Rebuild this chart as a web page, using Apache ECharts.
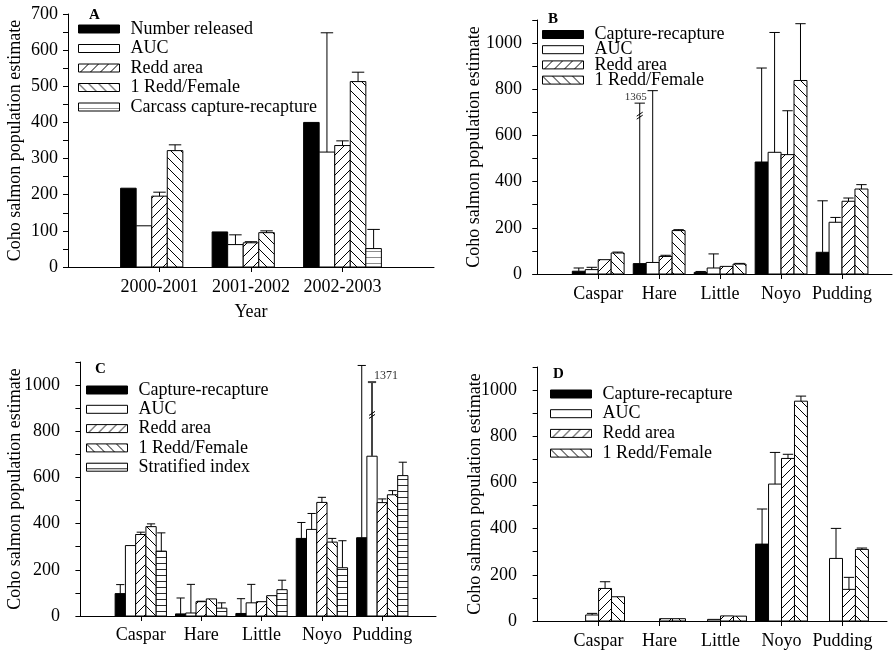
<!DOCTYPE html>
<html>
<head>
<meta charset="utf-8">
<script src="https://cdn.jsdelivr.net/npm/echarts@6/dist/echarts.min.js"></script>
<style>
  html, body { margin: 0; padding: 0; background: #fff; }
  #chart { width: 895px; height: 654px; }
</style>
</head>
<body>
<div id="chart"></div>
<script>
// ---- Data -------------------------------------------------------------
const years = ['2000-2001', '2001-2002', '2002-2003'];
const rivers = ['Caspar', 'Hare', 'Little', 'Noyo', 'Pudding'];

// Panel A: estimates by year (bar height, upper whisker)
const aReleased = [218, 97, 400];
const aReleasedErr = [null, null, null];
const aAuc = [114, 62, 318];
const aAucErr = [null, 89, 648];
const aReddArea = [196, 67, 336];
const aReddAreaErr = [207, 70, 349];
const aReddFemale = [322, 95, 513];
const aReddFemaleErr = [338, 100, 539];
const aCarcass = [null, null, 51];
const aCarcassErr = [null, null, 104];

// Panel B
const bCapture = [12, 45, 7, 485, 94];
const bCaptureErr = [26, 1365, 11, 892, 317];
const bAuc = [19, 50, 26, 527, 224];
const bAucErr = [29, 794, 87, 1046, 245];
const bReddArea = [62, 76, 33, 517, 315];
const bReddAreaErr = [null, 81, null, 707, 329];
const bReddFemale = [91, 188, 43, 838, 368];
const bReddFemaleErr = [95, 192, 46, 1084, 387];

// Panel C
const cCapture = [97, 9, 11, 336, 339];
const cCaptureErr = [136, 78, 75, 405, 1085];
const cAuc = [305, 13, 57, 375, 692];
const cAucErr = [null, 137, 137, 444, 1371];
const cReddArea = [353, 62, 62, 492, 491];
const cReddAreaErr = [363, 64, null, 514, 507];
const cReddFemale = [387, 74, 88, 320, 525];
const cReddFemaleErr = [399, null, null, 336, 543];
const cStratified = [281, 34, 114, 209, 608];
const cStratifiedErr = [360, 57, 155, 326, 666];

// Panel D
const dCapture = [null, null, null, 333, null];
const dCaptureErr = [null, null, null, 485, null];
const dAuc = [26, null, 7, 593, 271];
const dAucErr = [33, null, null, 730, 401];
const dReddArea = [141, 10, 22, 704, 137];
const dReddAreaErr = [170, null, null, 722, 189];
const dReddFemale = [105, 10, 21, 952, 310];
const dReddFemaleErr = [null, null, null, 974, 316];

const yTitle = 'Coho salmon population estimate';

// ---- Fill patterns ----------------------------------------------------
function makeTile(kind, color) {
  const c = document.createElement('canvas');
  const w = kind === 'h' ? 4 : 10, h = kind === 'h' ? 6 : 10;
  c.width = w; c.height = h;
  const g = c.getContext('2d');
  g.fillStyle = '#fff';
  g.fillRect(0, 0, w, h);
  g.strokeStyle = color || '#000';
  g.lineWidth = 1;
  g.beginPath();
  if (kind === '/') {
    g.moveTo(-1, h + 1); g.lineTo(w + 1, -1);
    g.moveTo(-1, 1); g.lineTo(1, -1);
    g.moveTo(w - 1, h + 1); g.lineTo(w + 1, h - 1);
  } else if (kind === '\\') {
    g.moveTo(-1, -1); g.lineTo(w + 1, h + 1);
    g.moveTo(w - 1, -1); g.lineTo(w + 1, 1);
    g.moveTo(-1, h - 1); g.lineTo(1, h + 1);
  } else if (kind === 'h') {
    g.moveTo(0, h - 0.5); g.lineTo(w, h - 0.5);
  }
  g.stroke();
  return { type: 'pattern', image: c, repeat: 'repeat' };
}
const FILL = {
  solid: '#000',
  open: '#fff',
  fwd: makeTile('/'),
  back: makeTile('\\'),
  carcass: makeTile('h', '#8c8c8c'),
  strat: makeTile('h', '#2a2a2a')
};

const FONT = '"Liberation Serif", "Times New Roman", Times, serif';
const GROUP_FRAC = 0.85;

// whiskers whose upper end runs off the scale and is drawn with a break
const BROKEN = {
  'B|Capture-recapture': { 1: { drawnTo: 740, breakAt: 688, color: '#000', width: 1, side: 'top' } },
  'C|AUC': { 4: { drawnTo: 1013, breakAt: 873, color: '#444', width: 2, side: 'right' } }
};

function makeRenderer(k, n, fill, broken) {
  return function (params, api) {
    const v = api.value(1);
    if (!isFinite(v)) return null;
    const x = api.value(0);
    const w = api.size([1, 0])[0] * GROUP_FRAC / n;
    const base = api.coord([x, 0]);
    const cx = base[0] + (k - (n - 1) / 2) * w;
    const top = api.coord([x, v])[1];
    const kids = [{
      type: 'rect',
      shape: { x: cx - w / 2, y: top, width: w, height: base[1] - top },
      style: { fill: fill, stroke: '#000', lineWidth: 1 }
    }];
    const e = api.value(2);
    if (isFinite(e)) {
      const br = broken && broken[params.dataIndex];
      const capY = api.coord([x, br ? br.drawnTo : e])[1];
      const stroke = br ? br.color : '#000';
      const lw = br ? br.width : 1;
      const capW = w * 0.8;
      kids.push({ type: 'line', shape: { x1: cx, y1: top, x2: cx, y2: capY }, style: { stroke: stroke, lineWidth: lw } });
      kids.push({ type: 'line', shape: { x1: cx - capW / 2, y1: capY, x2: cx + capW / 2, y2: capY }, style: { stroke: stroke, lineWidth: lw } });
      if (br) {
        const by = api.coord([x, br.breakAt])[1];
        kids.push({ type: 'line', shape: { x1: cx - 3, y1: by + 1, x2: cx + 3, y2: by - 3 }, style: { stroke: '#000', lineWidth: 1 } });
        kids.push({ type: 'line', shape: { x1: cx - 3, y1: by + 4, x2: cx + 3, y2: by }, style: { stroke: '#000', lineWidth: 1 } });
        kids.push({
          type: 'text',
          style: br.side === 'top'
            ? { text: String(e), x: cx - 4, y: capY - 1, align: 'center', verticalAlign: 'bottom', fill: '#333', font: '11px ' + FONT }
            : { text: String(e), x: cx + 2, y: capY - 6, align: 'left', verticalAlign: 'middle', fill: '#333', font: '12px ' + FONT }
        });
      }
    }
    return { type: 'group', children: kids };
  };
}

// ---- Panels -----------------------------------------------------------
const panels = [
  {
    id: 'A', cats: years, ymax: 700, yStep: 50, labelStep: 100,
    grid: { left: 68, top: 14, width: 366, height: 253 },
    xmin: 0, xmax: 4, yMargin: 10, xMargin: 11, nameGap: 44,
    letter: { left: 89, top: 8 },
    legend: { left: 78, top: 20, itemGap: 1.5 },
    xName: 'Year',
    series: [
      ['Number released', aReleased, aReleasedErr, FILL.solid],
      ['AUC', aAuc, aAucErr, FILL.open],
      ['Redd area', aReddArea, aReddAreaErr, FILL.fwd],
      ['1 Redd/Female', aReddFemale, aReddFemaleErr, FILL.back],
      ['Carcass capture-recapture', aCarcass, aCarcassErr, FILL.carcass]
    ]
  },
  {
    id: 'B', cats: rivers, ymax: 1100, yStep: 100, labelStep: 200,
    grid: { left: 533, top: 20, width: 359, height: 254 },
    xmin: -0.07, xmax: 5.82, yMargin: 11, xMargin: 11, nameGap: 50,
    letter: { left: 548, top: 12 },
    legend: { left: 542, top: 25.5, itemGap: -2.8 },
    series: [
      ['Capture-recapture', bCapture, bCaptureErr, FILL.solid],
      ['AUC', bAuc, bAucErr, FILL.open],
      ['Redd area', bReddArea, bReddAreaErr, FILL.fwd],
      ['1 Redd/Female', bReddFemale, bReddFemaleErr, FILL.back]
    ]
  },
  {
    id: 'C', cats: rivers, ymax: 1100, yStep: 100, labelStep: 200,
    grid: { left: 78, top: 362, width: 358, height: 254 },
    xmin: -0.04, xmax: 5.89, yMargin: 18, xMargin: 10, nameGap: 54,
    letter: { left: 95, top: 362 },
    legend: { left: 86, top: 381, itemGap: 1.3 },
    series: [
      ['Capture-recapture', cCapture, cCaptureErr, FILL.solid],
      ['AUC', cAuc, cAucErr, FILL.open],
      ['Redd area', cReddArea, cReddAreaErr, FILL.fwd],
      ['1 Redd/Female', cReddFemale, cReddFemaleErr, FILL.back],
      ['Stratified index', cStratified, cStratifiedErr, FILL.strat]
    ]
  },
  {
    id: 'D', cats: rivers, ymax: 1100, yStep: 100, labelStep: 200,
    grid: { left: 537, top: 367, width: 350, height: 254 },
    xmin: -0.01, xmax: 5.73, yMargin: 20, xMargin: 11, nameGap: 53,
    letter: { left: 553, top: 367 },
    legend: { left: 550, top: 385, itemGap: 1.7 },
    series: [
      ['Capture-recapture', dCapture, dCaptureErr, FILL.solid],
      ['AUC', dAuc, dAucErr, FILL.open],
      ['Redd area', dReddArea, dReddAreaErr, FILL.fwd],
      ['1 Redd/Female', dReddFemale, dReddFemaleErr, FILL.back]
    ]
  }
];

const black = { color: '#000', width: 1 };
const option = {
  animation: false,
  backgroundColor: '#fff',
  textStyle: { fontFamily: FONT, color: '#000' },
  grid: [], xAxis: [], yAxis: [], series: [], legend: [], title: []
};

panels.forEach(function (p, pi) {
  option.grid.push(Object.assign({ containLabel: false, outerBoundsMode: 'none' }, p.grid));
  const ticks = p.cats.map(function (_, i) { return i + 1; });
  option.xAxis.push({
    type: 'value', gridIndex: pi, min: p.xmin, max: p.xmax,
    name: p.xName || '', nameLocation: 'middle', nameGap: 36, nameMoveOverlap: false,
    nameTextStyle: { fontFamily: FONT, fontSize: 18, color: '#000' },
    axisLine: { show: true, lineStyle: black },
    axisTick: { show: true, length: 5, lineStyle: black, customValues: ticks },
    axisLabel: {
      customValues: ticks, margin: p.xMargin, color: '#000', fontFamily: FONT, fontSize: 18,
      formatter: function (v) { return p.cats[Math.round(v) - 1] || ''; }
    },
    splitLine: { show: false }
  });
  option.yAxis.push({
    type: 'value', gridIndex: pi, min: 0, max: p.ymax, interval: p.yStep,
    name: yTitle, nameLocation: 'middle', nameGap: p.nameGap, nameMoveOverlap: false,
    nameTextStyle: { fontFamily: FONT, fontSize: 18, color: '#000' },
    axisLine: { show: true, lineStyle: black },
    axisTick: { show: true, length: 5, lineStyle: black },
    axisLabel: {
      margin: p.yMargin, color: '#000', fontFamily: FONT, fontSize: 18,
      formatter: function (v) { return v % p.labelStep === 0 ? String(v) : ''; }
    },
    splitLine: { show: false }
  });
  const n = p.series.length;
  const legendData = [];
  p.series.forEach(function (s, k) {
    const name = s[0], vals = s[1], errs = s[2], fill = s[3];
    option.series.push({
      type: 'custom', name: name, xAxisIndex: pi, yAxisIndex: pi, clip: false,
      encode: { x: 0, y: 1 },
      itemStyle: { color: fill, borderColor: '#000', borderWidth: 1 },
      renderItem: makeRenderer(k, n, fill, BROKEN[p.id + '|' + name]),
      data: vals.map(function (v, i) { return [i + 1, v, errs[i]]; })
    });
    legendData.push({ name: name, icon: 'rect', itemStyle: { color: fill, borderColor: '#000', borderWidth: 1 } });
  });
  option.legend.push({
    orient: 'vertical', left: p.legend.left, top: p.legend.top, padding: 0,
    itemGap: p.legend.itemGap, itemWidth: 41, itemHeight: 8, selectedMode: false,
    textStyle: { fontFamily: FONT, fontSize: 18, color: '#000', padding: [0, 0, 0, 6] },
    data: legendData
  });
  option.title.push({
    text: p.id, left: p.letter.left, top: p.letter.top, padding: 0,
    textStyle: { fontFamily: FONT, fontSize: 15, fontWeight: 'bold', color: '#000' }
  });
});

const chart = echarts.init(document.getElementById('chart'), null, { renderer: 'canvas' });
chart.setOption(option);
</script>
</body>
</html>
